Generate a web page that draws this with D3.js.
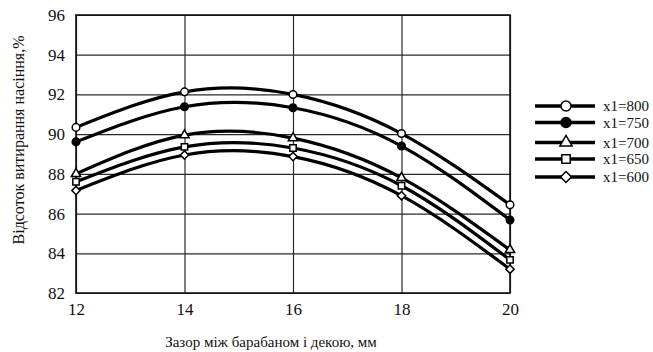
<!DOCTYPE html>
<html>
<head>
<meta charset="utf-8">
<script src="https://cdn.jsdelivr.net/npm/d3@7"></script>
<style>
  body { margin: 0; background: #fff; }
  svg { display: block; }
  .axis text { font-family: "Liberation Serif", "DejaVu Serif", serif; font-size: 17px; fill: #111; }
  .axis .domain { display: none; }
  .grid line { stroke: #2a2a2a; stroke-width: 1.2; }
  .title { font-family: "Liberation Serif", "DejaVu Serif", serif; fill: #111; }
</style>
</head>
<body>
<svg width="653" height="352"></svg>
<script>
// data
const gaps = [12, 14, 16, 18, 20];
const seriesNames = ['x1=800', 'x1=750', 'x1=700', 'x1=650', 'x1=600'];
const s800 = [90.34, 92.13, 92.0, 90.03, 86.44];
const s750 = [89.61, 91.38, 91.33, 89.4, 85.68];
const s700 = [88.0, 89.95, 89.8, 87.8, 84.17];
const s650 = [87.6, 89.36, 89.3, 87.4, 83.67];
const s600 = [87.16, 88.95, 88.87, 86.9, 83.2];
const yTicks = [82, 84, 86, 88, 90, 92, 94, 96];
const xTicks = [12, 14, 16, 18, 20];

const allSeries = [s800, s750, s700, s650, s600];
const markers = ['circle', 'dot', 'triangle', 'square', 'diamond'];

const margin = {top: 15, right: 143, bottom: 59, left: 76};
const width = 653 - margin.left - margin.right;
const height = 352 - margin.top - margin.bottom;
const serif = '"Liberation Serif", "DejaVu Serif", serif';

const svg = d3.select('svg');
const g = svg.append('g')
  .attr('transform', 'translate(' + margin.left + ',' + margin.top + ')');

const x = d3.scaleLinear().domain([12, 20]).range([0, width]);
const y = d3.scaleLinear().domain([82, 96]).range([height, 0]);

// grid + tick labels
g.append('g')
  .attr('class', 'axis grid')
  .call(d3.axisLeft(y).tickValues(yTicks).tickSize(-width).tickPadding(11).tickFormat(d3.format('d')))
  .attr('font-family', serif).attr('font-size', 17);

const xAxis = g.append('g')
  .attr('class', 'axis grid')
  .attr('transform', 'translate(0,' + height + ')')
  .call(d3.axisBottom(x).tickValues(xTicks).tickSize(-height).tickPadding(10).tickFormat(d3.format('d')))
  .attr('font-family', serif).attr('font-size', 17);

g.append('rect')
  .attr('width', width).attr('height', height)
  .attr('fill', 'none').attr('stroke', '#111').attr('stroke-width', 1.6);

// lines
const line = d3.line()
  .x((d, i) => x(gaps[i]))
  .y(d => y(d))
  .curve(d3.curveNatural);

g.selectAll('.series')
  .data(allSeries)
  .enter().append('path')
  .attr('class', 'series')
  .attr('d', line)
  .attr('fill', 'none')
  .attr('stroke', '#000')
  .attr('stroke-width', 3.2);

function drawMarker(sel, type, r) {
  if (type === 'circle' || type === 'dot') {
    sel.append('circle').attr('r', r)
      .attr('fill', type === 'dot' ? '#000' : '#fff')
      .attr('stroke', '#000').attr('stroke-width', 1.5);
  } else if (type === 'diamond') {
    sel.append('path').attr('d', d3.symbol().type(d3.symbolSquare).size(r * r * 2.4)())
      .attr('transform', 'rotate(45)')
      .attr('fill', '#fff').attr('stroke', '#000').attr('stroke-width', 1.5);
  } else {
    const sym = type === 'triangle' ? d3.symbolTriangle : d3.symbolSquare;
    const size = type === 'triangle' ? r * r * 2.6 : r * r * 2.8;
    sel.append('path').attr('d', d3.symbol().type(sym).size(size)())
      .attr('fill', '#fff').attr('stroke', '#000').attr('stroke-width', 1.5);
  }
}

allSeries.forEach((s, k) => {
  s.forEach((v, i) => {
    const m = g.append('g').attr('transform', 'translate(' + x(gaps[i]) + ',' + y(v) + ')');
    drawMarker(m, markers[k], 3.8);
  });
});

// legend
const legendY = [106, 122.5, 142.5, 159, 177];
const legend = svg.append('g');
seriesNames.forEach((name, k) => {
  const row = legend.append('g').attr('transform', 'translate(535,' + legendY[k] + ')');
  row.append('line').attr('x1', 0).attr('x2', 60)
    .attr('stroke', '#000').attr('stroke-width', 3.5);
  const m = row.append('g').attr('transform', 'translate(31,0)');
  drawMarker(m, markers[k], 5);
  row.append('text').attr('class', 'title')
    .attr('x', 68).attr('dy', '0.35em')
    .style('font-size', '15px')
    .text(name);
});

// axis titles
svg.append('text').attr('class', 'title')
  .attr('transform', 'translate(24,' + (margin.top + height / 2 - 14) + ') rotate(-90)')
  .attr('text-anchor', 'middle')
  .style('font-size', '16px')
  .text('Відсоток витирання насіння,%');

svg.append('text').attr('class', 'title')
  .attr('x', 271).attr('y', 347)
  .attr('text-anchor', 'middle')
  .style('font-size', '15px')
  .text('Зазор між барабаном і декою, мм');
</script>
</body>
</html>
